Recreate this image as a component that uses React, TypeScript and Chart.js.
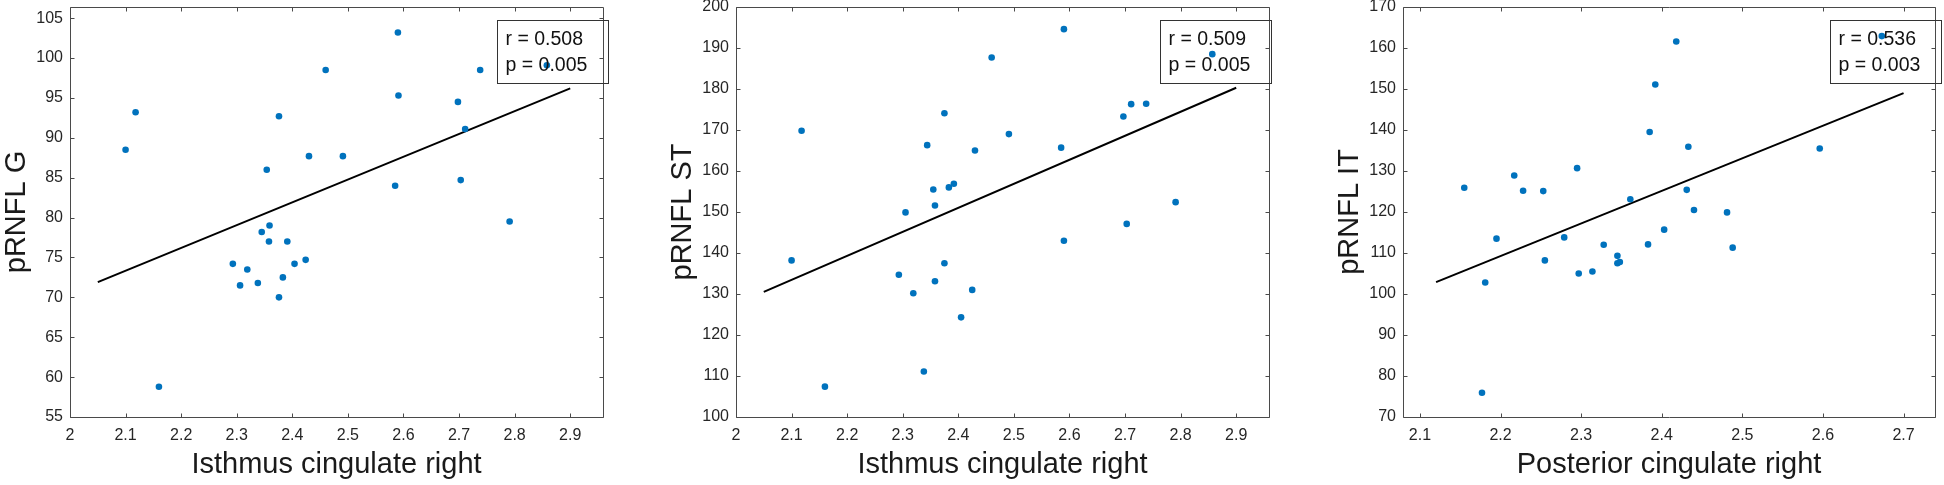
import React, { useEffect, useRef } from "react";
import { Chart, registerables } from "chart.js";

Chart.register(...registerables);

// ---------- data ----------
const gX = [2.100, 2.118, 2.160, 2.293, 2.306, 2.319, 2.338, 2.345, 2.354, 2.358, 2.359, 2.376, 2.376, 2.383, 2.391, 2.404, 2.424, 2.430, 2.460, 2.491, 2.585, 2.590, 2.591, 2.698, 2.703, 2.711, 2.738, 2.791, 2.858];
const gY = [88.5, 93.2, 58.8, 74.2, 71.5, 73.5, 71.8, 78.2, 86.0, 77.0, 79.0, 92.7, 70.0, 72.5, 77.0, 74.2, 74.7, 87.7, 98.5, 87.7, 84.0, 103.2, 95.3, 94.5, 84.7, 91.1, 98.5, 79.5, 99.1];

const stX = [2.100, 2.118, 2.160, 2.293, 2.305, 2.319, 2.338, 2.344, 2.355, 2.358, 2.358, 2.375, 2.375, 2.383, 2.392, 2.405, 2.425, 2.430, 2.460, 2.491, 2.585, 2.590, 2.590, 2.697, 2.703, 2.711, 2.738, 2.791, 2.857];
const stY = [138.2, 169.8, 107.4, 134.7, 149.9, 130.2, 111.1, 166.3, 155.5, 151.6, 133.1, 174.1, 137.5, 156.0, 156.9, 124.3, 131.0, 165.0, 187.7, 169.0, 165.7, 194.6, 143.0, 173.3, 147.1, 176.3, 176.4, 152.4, 188.5];

const itX = [2.155, 2.177, 2.181, 2.195, 2.217, 2.228, 2.253, 2.255, 2.279, 2.295, 2.297, 2.314, 2.328, 2.345, 2.345, 2.348, 2.361, 2.383, 2.385, 2.392, 2.403, 2.418, 2.431, 2.433, 2.440, 2.481, 2.488, 2.596, 2.673];
const itY = [125.9, 75.9, 102.8, 113.5, 128.9, 125.2, 125.1, 108.2, 113.8, 130.7, 105.0, 105.5, 112.0, 109.3, 107.5, 107.8, 123.1, 112.1, 139.5, 151.1, 115.7, 161.6, 125.4, 135.9, 120.5, 119.9, 111.3, 135.5, 162.9];

const gFitX = [2.05, 2.9];
const gFitY = [71.9, 96.2];
const stFitX = [2.05, 2.9];
const stFitY = [130.5, 180.3];
const itFitX = [2.12, 2.7];
const itFitY = [102.9, 149.0];

const xTicksIsthmus = [2, 2.1, 2.2, 2.3, 2.4, 2.5, 2.6, 2.7, 2.8, 2.9];
const xTicksPosterior = [2.1, 2.2, 2.3, 2.4, 2.5, 2.6, 2.7];
const yTicksG = [55, 60, 65, 70, 75, 80, 85, 90, 95, 100, 105];
const yTicksST = [100, 110, 120, 130, 140, 150, 160, 170, 180, 190, 200];
const yTicksIT = [70, 80, 90, 100, 110, 120, 130, 140, 150, 160, 170];

const yTitles = ["pRNFL G", "pRNFL ST", "pRNFL IT"];
const xTitles = ["Isthmus cingulate right", "Isthmus cingulate right", "Posterior cingulate right"];
const rTexts = ["r = 0.508", "r = 0.509", "r = 0.536"];
const pTexts = ["p = 0.005", "p = 0.005", "p = 0.003"];

// ---------- styles ----------
const FONT = "'Liberation Sans', Arial, Helvetica, sans-serif";
const DOT = "#0072BD";
const AXIS = "#4a4a4a";
const TEXT = "#262626";

type PanelCfg = {
  left: number;
  width: number;
  padRight: number;
  xs: number[];
  ys: number[];
  fx: number[];
  fy: number[];
  xMin: number;
  xMax: number;
  yMin: number;
  yMax: number;
  xTicks: number[];
  yTicks: number[];
  yTitle: string;
  xTitle: string;
  rText: string;
  pText: string;
  boxRight: number;
};

const panels: PanelCfg[] = [
  { left: 0, width: 640, padRight: 37, xs: gX, ys: gY, fx: gFitX, fy: gFitY, xMin: 2, xMax: 2.959, yMin: 55, yMax: 106.4, xTicks: xTicksIsthmus, yTicks: yTicksG, yTitle: yTitles[0], xTitle: xTitles[0], rText: rTexts[0], pText: pTexts[0], boxRight: 5 },
  { left: 666, width: 640, padRight: 37, xs: stX, ys: stY, fx: stFitX, fy: stFitY, xMin: 2, xMax: 2.959, yMin: 100, yMax: 200, xTicks: xTicksIsthmus, yTicks: yTicksST, yTitle: yTitles[1], xTitle: xTitles[1], rText: rTexts[1], pText: pTexts[1], boxRight: 1.5 },
  { left: 1333, width: 611, padRight: 9, xs: itX, ys: itY, fx: itFitX, fy: itFitY, xMin: 2.079, xMax: 2.739, yMin: 70, yMax: 170, xTicks: xTicksPosterior, yTicks: yTicksIT, yTitle: yTitles[2], xTitle: xTitles[2], rText: rTexts[2], pText: pTexts[2], boxRight: 5.5 },
];

function Panel({ cfg }: { cfg: PanelCfg }) {
  const ref = useRef<HTMLCanvasElement | null>(null);
  useEffect(() => {
    if (!ref.current) return;
    const framePlugin = {
      id: "frame",
      afterDraw(chart: any) {
        const { ctx, chartArea: a, scales } = chart;
        const sx = scales.x;
        const sy = scales.y;
        ctx.save();
        ctx.strokeStyle = AXIS;
        ctx.lineWidth = 1;
        const L = Math.round(a.left) + 0.5;
        const R = Math.round(a.right) + 0.5;
        const T = Math.round(a.top) + 0.5;
        const B = Math.round(a.bottom) + 0.5;
        ctx.beginPath();
        ctx.rect(L, T, R - L, B - T);
        const tl = 4;
        cfg.xTicks.forEach((v) => {
          const px = Math.round(sx.getPixelForValue(v)) + 0.5;
          ctx.moveTo(px, B);
          ctx.lineTo(px, B - tl);
          ctx.moveTo(px, T);
          ctx.lineTo(px, T + tl);
        });
        cfg.yTicks.forEach((v) => {
          const py = Math.round(sy.getPixelForValue(v)) + 0.5;
          ctx.moveTo(L, py);
          ctx.lineTo(L + tl, py);
          ctx.moveTo(R, py);
          ctx.lineTo(R - tl, py);
        });
        ctx.stroke();

        // r / p annotation box
        const bw = 111;
        const bh = 63;
        const bx = Math.round(a.right + cfg.boxRight - bw) + 0.5;
        const by = Math.round(a.top + 13) + 0.5;
        ctx.strokeStyle = "#333333";
        ctx.strokeRect(bx, by, bw, bh);
        ctx.fillStyle = "#111111";
        ctx.font = `19.5px ${FONT}`;
        ctx.textBaseline = "middle";
        ctx.textAlign = "left";
        ctx.fillText(cfg.rText, bx + 8, by + 19.5);
        ctx.fillText(cfg.pText, bx + 8, by + 45);
        ctx.restore();
      },
    };

    const chart = new Chart(ref.current, {
      type: "scatter",
      data: {
        datasets: [
          {
            type: "scatter",
            data: cfg.xs.map((x, i) => ({ x, y: cfg.ys[i] })),
            backgroundColor: DOT,
            borderWidth: 0,
            pointRadius: 3.3,
            pointHoverRadius: 3.3,
          },
          {
            type: "line",
            data: cfg.fx.map((x, i) => ({ x, y: cfg.fy[i] })),
            borderColor: "#000000",
            borderWidth: 2,
            pointRadius: 0,
            showLine: true,
            fill: false,
          } as any,
        ],
      },
      options: {
        animation: false,
        responsive: false,
        events: [],
        layout: { padding: { top: 7, left: 0, right: cfg.padRight, bottom: 3 } },
        plugins: { legend: { display: false }, tooltip: { enabled: false } },
        scales: {
          x: {
            type: "linear",
            min: cfg.xMin,
            max: cfg.xMax,
            grid: { display: false, drawTicks: false, tickLength: 0 },
            border: { display: false },
            afterBuildTicks: (s: any) => {
              s.ticks = cfg.xTicks.map((v) => ({ value: v }));
            },
            afterFit: (s: any) => {
              s.height = 65;
              s.paddingLeft = 0;
              s.paddingRight = 0;
              s.paddingTop = 0;
              s.paddingBottom = 0;
            },
            ticks: {
              autoSkip: false,
              maxRotation: 0,
              padding: 9,
              color: TEXT,
              font: { family: FONT, size: 16 },
              callback: (v: any) => String(Math.round(Number(v) * 10) / 10),
            },
            title: {
              display: true,
              text: cfg.xTitle,
              color: "#1a1a1a",
              font: { family: FONT, size: 29 },
              padding: { top: 0, bottom: 0 },
            },
          },
          y: {
            type: "linear",
            min: cfg.yMin,
            max: cfg.yMax,
            grid: { display: false, drawTicks: false, tickLength: 0 },
            border: { display: false },
            afterBuildTicks: (s: any) => {
              s.ticks = cfg.yTicks.map((v) => ({ value: v }));
            },
            afterFit: (s: any) => {
              s.width = 70;
              s.paddingLeft = 0;
              s.paddingRight = 0;
              s.paddingTop = 0;
              s.paddingBottom = 0;
            },
            ticks: {
              autoSkip: false,
              padding: 7,
              color: TEXT,
              font: { family: FONT, size: 16 },
              callback: (v: any) => String(Math.round(Number(v))),
            },
            title: {
              display: true,
              text: cfg.yTitle,
              color: "#1a1a1a",
              font: { family: FONT, size: 29 },
              padding: { top: 0, bottom: 0 },
            },
          },
        },
      },
      plugins: [framePlugin],
    } as any);
    return () => chart.destroy();
  }, [cfg]);

  return (
    <div style={{ position: "absolute", left: cfg.left, top: 0, width: cfg.width, height: 485 }}>
      <canvas ref={ref} width={cfg.width} height={485} style={{ width: cfg.width, height: 485, display: "block" }} />
    </div>
  );
}

export default function App() {
  return (
    <div style={{ position: "absolute", left: 0, top: 0, width: 1944, height: 485, overflow: "hidden", background: "#ffffff" }}>
      {panels.map((p, i) => (
        <Panel key={i} cfg={p} />
      ))}
    </div>
  );
}
